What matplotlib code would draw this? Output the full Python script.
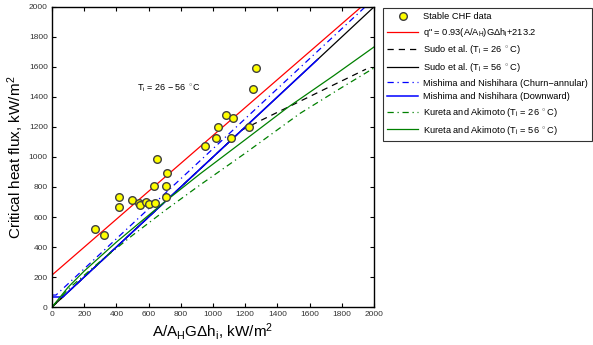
import matplotlib
matplotlib.use("Agg")
import matplotlib.pyplot as plt
import numpy as np

plt.rcParams['font.family'] = ['Liberation Sans', 'DejaVu Sans']
plt.rcParams['mathtext.fontset'] = 'custom'
plt.rcParams['mathtext.rm'] = 'Liberation Sans'
plt.rcParams['mathtext.it'] = 'Liberation Sans:italic'
plt.rcParams['mathtext.bf'] = 'Liberation Sans:bold'

# Stable CHF data
data_x = [269, 325, 414, 414, 499, 542, 547, 586, 602, 638, 632, 654, 716, 706, 710,
          952, 1019, 1031, 1081, 1110, 1124, 1226, 1246, 1265]
data_y = [520, 478, 736, 667, 716, 696, 680, 700, 684, 693, 807, 984, 891, 809, 736,
          1076, 1129, 1202, 1280, 1129, 1258, 1198, 1453, 1591]

# Correlations
fit_x = [0, 1921]
fit_y = [213.2, 2000]

sudo26_x = [0, 1180, 1300, 1500, 1700, 1950]
sudo26_y = [0, 1180, 1245, 1350, 1455, 1585]

sudo56_x = [0, 2000]
sudo56_y = [0, 2000]

mish_ca_x = [0, 25, 1945]
mish_ca_y = [80, 80, 2000]

mish_dn_x = [0, 67, 1650]
mish_dn_y = [67, 67, 1650]

kur26_x = [0, 100, 300, 500, 700, 919, 1200, 1540, 1800, 2000]
kur26_y = [0, 119, 305, 478, 642, 813, 1025, 1290, 1463, 1593]

kur56_x = [0, 100, 200, 400, 700, 919, 1200, 1460, 1750, 2000]
kur56_y = [0, 132, 240, 433, 701, 887, 1115, 1327, 1542, 1733]

fig = plt.figure(figsize=(5.93, 3.45), dpi=100)
ax = fig.add_axes([0.0877, 0.110, 0.543, 0.870])

ax.plot(data_x, data_y, 'o', mfc='#ffff00', mec='#404040', mew=1.0, ms=5.5,
        label='Stable CHF data', zorder=5)
ax.plot(fit_x, fit_y, '-', color='#ff0000', lw=0.9,
        label=r'q" = 0.93(A/A$_\mathrm{H}$)G$\Delta$h$_\mathrm{i}$+213.2')
ax.plot(sudo26_x, sudo26_y, '--', color='black', lw=0.9, dashes=(5, 4),
        label=r'Sudo et al. (T$_\mathrm{i}$ = 26 $^\circ$C)')
ax.plot(sudo56_x, sudo56_y, '-', color='black', lw=0.9,
        label=r'Sudo et al. (T$_\mathrm{i}$ = 56 $^\circ$C)')
ax.plot(mish_ca_x, mish_ca_y, '-.', color='#0000ff', lw=0.9, dashes=(5, 3, 1, 3),
        label='Mishima and Nishihara (Churn\u2212annular)')
ax.plot(mish_dn_x, mish_dn_y, '-', color='#0000ff', lw=1.1,
        label='Mishima and Nishihara (Downward)')
ax.plot(kur26_x, kur26_y, '-.', color='#008000', lw=0.9, dashes=(5, 3, 1, 3),
        label=r'Kureta and Akimoto (T$_\mathrm{i}$ = 26 $^\circ$C)')
ax.plot(kur56_x, kur56_y, '-', color='#008000', lw=0.9,
        label=r'Kureta and Akimoto (T$_\mathrm{i}$ = 56 $^\circ$C)')

ax.set_xlim(0, 2000)
ax.set_ylim(0, 2000)
ax.set_xticks(np.arange(0, 2001, 200))
ax.set_yticks(np.arange(0, 2001, 200))
ax.tick_params(direction='in', top=True, right=True, length=3, width=0.8,
               labelsize=6, colors='black', labelcolor='#333333', pad=3)
for s in ax.spines.values():
    s.set_linewidth(1.0)

ax.set_xlabel(r'A/A$_\mathrm{H}$G$\Delta$h$_\mathrm{i}$, kW/m$^2$', fontsize=11, labelpad=2)
ax.set_ylabel(r'Critical heat flux, kW/m$^2$', fontsize=11, labelpad=2)

ax.text(530, 1460, r'T$_\mathrm{i}$ = 26 $-$ 56 $^\circ$C', fontsize=6.5, va='center', ha='left')

leg = fig.legend(loc='upper left', bbox_to_anchor=(0.646, 0.977), fontsize=6.7,
                 frameon=True, fancybox=False, edgecolor='black', handlelength=3.3,
                 handletextpad=0.5, labelspacing=0.5, borderpad=0.45, numpoints=1,
                 borderaxespad=0)
leg.get_frame().set_linewidth(0.8)

fig.savefig('out.png', dpi=100)
